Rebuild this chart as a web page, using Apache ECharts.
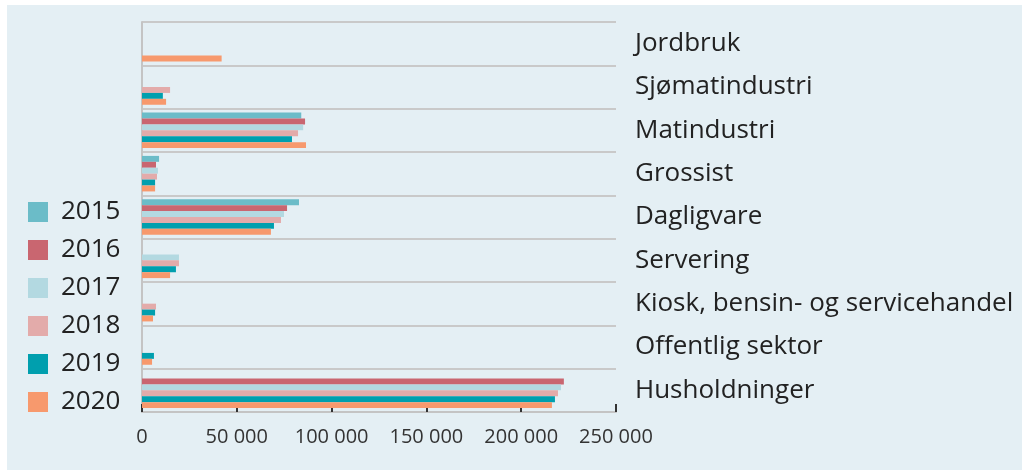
<!DOCTYPE html>
<html>
<head>
<meta charset="utf-8">
<script src="https://cdn.jsdelivr.net/npm/echarts@6/dist/echarts.min.js"></script>
<style>
html,body{margin:0;padding:0;background:#ffffff;}
#panel{position:absolute;left:7px;top:5px;width:1015px;height:465px;background:#e4eff4;}
#chart{position:absolute;left:0;top:0;width:1022px;height:470px;}
</style>
</head>
<body>
<div id="panel"></div>
<div id="chart"></div>
<script>
const categories = ["Jordbruk","Sjømatindustri","Matindustri","Grossist","Dagligvare","Servering","Kiosk, bensin- og servicehandel","Offentlig sektor","Husholdninger"];
const years = ["2015","2016","2017","2018","2019","2020"];
const v2015 = [null, null, 84000, 9000, 82800, null, null, null, null];
const v2016 = [null, null, 86000, 7400, 76500, null, null, null, 222500];
const v2017 = [null, null, 85000, 8400, 74900, 19500, null, null, 221000];
const v2018 = [null, 14800, 82300, 7900, 73300, 19500, 7400, null, 219400];
const v2019 = [null, 11000, 79100, 6900, 69600, 17900, 6900, 6300, 217800];
const v2020 = [42000, 12700, 86500, 6900, 68000, 14800, 5800, 5300, 216200];
const xTicks = [0, 50000, 100000, 150000, 200000, 250000];
const colors = ["#6bbcc8","#c96670","#b3d9e1","#e3abaa","#009fae","#f7996d"];
const seriesValues = [v2015, v2016, v2017, v2018, v2019, v2020];

const chart = echarts.init(document.getElementById('chart'), null, {renderer:'canvas'});
const font = "'Open Sans', 'Noto Sans', sans-serif";
chart.setOption({
  backgroundColor: 'transparent',
  animation: false,
  textStyle: {fontFamily: font},
  legend: {
    orient: 'vertical',
    left: 23,
    top: 194,
    itemWidth: 20,
    itemHeight: 20,
    itemGap: 12,
    icon: 'rect',
    data: years,
    textStyle: {fontSize: 26, color: '#222', fontFamily: font, padding: [0,0,0,8]}
  },
  grid: {left: 142, right: 406, top: 22, bottom: 58, containLabel: false},
  xAxis: {
    type: 'value',
    min: xTicks[0],
    max: xTicks[xTicks.length-1],
    interval: 50000,
    axisLine: {show: true, lineStyle: {color: '#c4c4c4', width: 2}},
    axisTick: {show: true, inside: true, length: 8, lineStyle: {color: '#333', width: 2}},
    splitLine: {show: false},
    axisLabel: {
      fontSize: 20, color: '#333', margin: 15, fontFamily: font,
      formatter: function(v){ return String(v).replace(/\B(?=(\d{3})+(?!\d))/g, ' '); }
    }
  },
  yAxis: [{
    type: 'category',
    data: categories,
    inverse: true,
    position: 'right',
    axisLine: {show: false},
    axisTick: {show: false},
    axisLabel: {fontSize: 26, color: '#222', margin: 19, fontFamily: font, align: 'left'},
    splitLine: {show: true, lineStyle: {color: '#c9c9c9', width: 2}}
  },{
    type: 'category',
    data: categories,
    inverse: true,
    position: 'left',
    axisLine: {show: true, lineStyle: {color: '#c4c4c4', width: 2}},
    axisTick: {show: false},
    axisLabel: {show: false},
    splitLine: {show: false}
  }],
  series: years.map((y, i) => ({
    name: y,
    type: 'bar',
    data: seriesValues[i],
    yAxisIndex: 0,
    barGap: '0%',
    barCategoryGap: '18%',
    itemStyle: {color: colors[i]}
  }))
});
</script>
</body>
</html>
